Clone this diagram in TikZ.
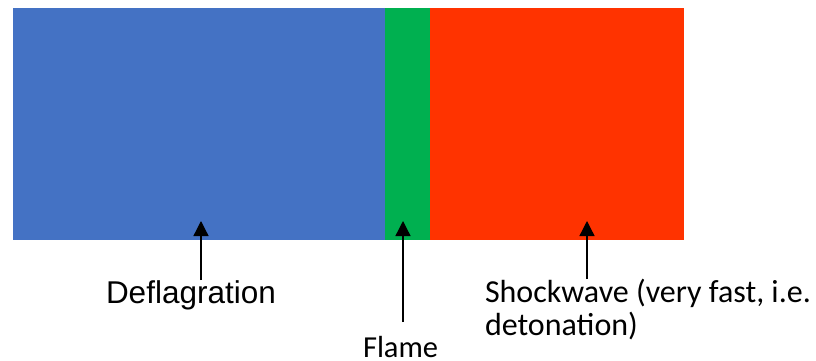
\documentclass[tikz,border=0pt]{standalone}
\usepackage{fontspec}
\setmainfont{Liberation Sans}
\newfontfamily\calfont{Carlito}
\usetikzlibrary{arrows.meta}
\definecolor{defblue}{HTML}{4472C4}
\definecolor{flgreen}{HTML}{00B050}
\definecolor{shred}{HTML}{FF3300}
\begin{document}
\begin{tikzpicture}[x=1pt,y=-1pt,
  zone/.style={draw=none,inner sep=0pt,outer sep=0pt,anchor=north west},
  lbl/.style={inner sep=0pt,outer sep=0pt,anchor=base west},
  pointer/.style={line width=1.3pt,-{Triangle[length=15pt,width=15pt]}}]
\useasboundingbox (0,0) rectangle (816,361);
\node[zone,fill=defblue,minimum width=372pt,minimum height=232pt] (defl) at (13,8) {};
\node[zone,fill=flgreen,minimum width=45pt,minimum height=232pt] (flame) at (385,8) {};
\node[zone,fill=shred,minimum width=254pt,minimum height=232pt] (shock) at (430,8) {};
\node[lbl,font=\fontsize{31.5}{36}\selectfont] (tdefl) at (106,303) {Deflagration};
\node[lbl,font=\calfont\fontsize{30.5}{35}\selectfont,text depth=0pt] (tflame) at (363,357) {Flame};
\node[lbl,font=\calfont\fontsize{32}{33}\selectfont,align=left] (tshock) at (485,335) {Shockwave (very fast, i.e.\\detonation)};
\coordinate (cdefl) at (201,280);
\coordinate (cflame) at (403,322);
\coordinate (cshock) at (587,279);
\coordinate (hdefl) at (201,221);
\coordinate (hflame) at (403,221);
\coordinate (hshock) at (587,221);
\draw[pointer] (cdefl) -- (hdefl);
\draw[pointer] (cflame) -- (hflame);
\draw[pointer] (cshock) -- (hshock);
\end{tikzpicture}
\end{document}
